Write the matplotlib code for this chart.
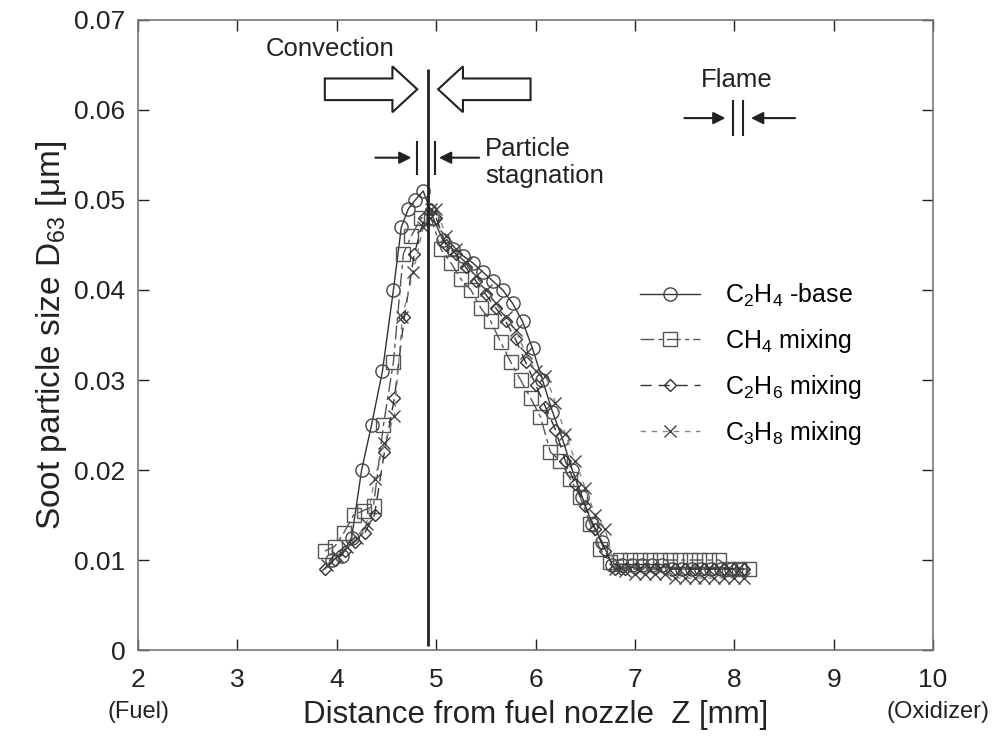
import numpy as np
import matplotlib
matplotlib.use("Agg")
import matplotlib.pyplot as plt
from matplotlib.patches import FancyArrow

plt.rcParams['font.family'] = ['Liberation Sans', 'DejaVu Sans']
plt.rcParams['mathtext.fontset'] = 'custom'
plt.rcParams['mathtext.rm'] = 'Liberation Sans'
plt.rcParams['mathtext.it'] = 'Liberation Sans:italic'

# C2H4 base (circles)
c2h4_x = [3.95, 4.05, 4.15, 4.25, 4.35, 4.46, 4.57, 4.65, 4.72, 4.79, 4.87,
          4.97, 5.07, 5.17, 5.27, 5.37, 5.47, 5.57, 5.67, 5.77, 5.87,
          5.97, 6.07, 6.17, 6.27, 6.37, 6.47, 6.57, 6.67, 6.77, 6.87,
          6.97, 7.07, 7.17, 7.27, 7.37, 7.47, 7.57, 7.67, 7.77, 7.87,
          7.97, 8.07]
c2h4_y = [0.0100, 0.0105, 0.0125, 0.0200, 0.0250, 0.0310, 0.0400, 0.0470, 0.0490, 0.0500, 0.0510,
          0.0480, 0.0455, 0.0445, 0.0438, 0.0430, 0.0420, 0.0410, 0.0400, 0.0385, 0.0365,
          0.0335, 0.0300, 0.0265, 0.0235, 0.0200, 0.0170, 0.0140, 0.0120, 0.0095, 0.0095,
          0.0095, 0.0095, 0.0095, 0.0095, 0.0090, 0.0090, 0.0090, 0.0090, 0.0090, 0.0090,
          0.0090, 0.0090]

# CH4 mixing (squares)
ch4_x = [3.88, 3.98, 4.07, 4.17, 4.27, 4.37, 4.47, 4.57, 4.67, 4.75, 4.85, 4.95,
         5.05, 5.15, 5.25, 5.35, 5.45, 5.55, 5.65, 5.75, 5.85, 5.95,
         6.05, 6.15, 6.25, 6.35, 6.45, 6.55, 6.65, 6.75, 6.85, 6.95,
         7.05, 7.15, 7.25, 7.35, 7.45, 7.55, 7.65, 7.75, 7.85,
         7.95, 8.05, 8.15]
ch4_y = [0.0110, 0.0115, 0.0130, 0.0150, 0.0155, 0.0160, 0.0250, 0.0320, 0.0440, 0.0460, 0.0480, 0.0480,
         0.0445, 0.0430, 0.0412, 0.0400, 0.0380, 0.0365, 0.0342, 0.0320, 0.0300, 0.0280,
         0.0259, 0.0220, 0.0210, 0.0190, 0.0170, 0.0140, 0.0112, 0.0098, 0.0100, 0.0100,
         0.0100, 0.0100, 0.0100, 0.0100, 0.0100, 0.0100, 0.0100, 0.0100, 0.0100,
         0.0090, 0.0090, 0.0090]

# C2H6 mixing (diamonds)
c2h6_x = [3.88, 3.98, 4.08, 4.18, 4.28, 4.38, 4.48, 4.58, 4.68, 4.78, 4.88, 4.95,
          5.00, 5.10, 5.20, 5.30, 5.40, 5.50, 5.60, 5.70, 5.80, 5.90,
          6.00, 6.10, 6.20, 6.30, 6.40, 6.50, 6.60, 6.70, 6.80, 6.90,
          7.00, 7.10, 7.20, 7.30, 7.40, 7.50, 7.60, 7.70, 7.80, 7.90,
          8.00, 8.10]
c2h6_y = [0.0090, 0.0100, 0.0110, 0.0120, 0.0130, 0.0150, 0.0220, 0.0280, 0.0370, 0.0440, 0.0480, 0.0490,
          0.0480, 0.0450, 0.0440, 0.0425, 0.0410, 0.0395, 0.0380, 0.0365, 0.0345, 0.0320,
          0.0295, 0.0270, 0.0245, 0.0210, 0.0185, 0.0160, 0.0135, 0.0110, 0.0090, 0.0090,
          0.0090, 0.0090, 0.0090, 0.0090, 0.0090, 0.0090, 0.0090, 0.0090, 0.0090, 0.0090,
          0.0090, 0.0090]

# C3H8 mixing (crosses)
c3h8_x = [3.90, 4.00, 4.10, 4.20, 4.30, 4.38, 4.48, 4.58, 4.66, 4.77, 4.87, 4.95,
          5.00, 5.10, 5.20, 5.30, 5.40, 5.50, 5.60, 5.70, 5.80, 5.90,
          6.00, 6.10, 6.20, 6.30, 6.40, 6.50, 6.60, 6.70, 6.80, 6.90,
          7.00, 7.10, 7.20, 7.30, 7.40, 7.50, 7.60, 7.70, 7.80, 7.90,
          8.00, 8.10]
c3h8_y = [0.0095, 0.0105, 0.0115, 0.0125, 0.0140, 0.0190, 0.0230, 0.0260, 0.0370, 0.0420, 0.0470, 0.0490,
          0.0490, 0.0460, 0.0445, 0.0430, 0.0415, 0.0400, 0.0385, 0.0370, 0.0355, 0.0330,
          0.0310, 0.0305, 0.0275, 0.0240, 0.0210, 0.0180, 0.0150, 0.0135, 0.0090, 0.0088,
          0.0085, 0.0085, 0.0085, 0.0085, 0.0080, 0.0080, 0.0080, 0.0080, 0.0080, 0.0080,
          0.0080, 0.0080]

x_ticks = [2, 3, 4, 5, 6, 7, 8, 9, 10]
y_ticks = [0, 0.01, 0.02, 0.03, 0.04, 0.05, 0.06, 0.07]
y_ticklabels = ['0', '0.01', '0.02', '0.03', '0.04', '0.05', '0.06', '0.07']
stagnation_z = 4.92

txt = '#222222'

fig = plt.figure(figsize=(9.95, 7.4), dpi=100)
ax = fig.add_axes([0.1387, 0.1216, 0.7990, 0.8514])

ax.plot(c2h4_x, c2h4_y, color='#333333', lw=1.0, marker='o', ms=9.5, mfc='none',
        mec='#444444', mew=1.0, label=r'C$_2$H$_4$ -base')
ax.plot(ch4_x, ch4_y, color='#555555', lw=1.0, ls=(0, (10, 3, 3, 3)), marker='s', ms=9.5,
        mfc='none', mec='#555555', mew=1.0, label=r'CH$_4$ mixing')
ax.plot(c2h6_x, c2h6_y, color='#333333', lw=1.0, ls=(0, (8, 5)), marker='D', ms=6.5,
        mfc='none', mec='#333333', mew=1.0, label=r'C$_2$H$_6$ mixing')
ax.plot(c3h8_x, c3h8_y, color='#888888', lw=1.0, ls=(0, (4, 4)), marker='x', ms=8.5,
        mec='#444444', mew=1.0, label=r'C$_3$H$_8$ mixing')

# stagnation line
ax.vlines(stagnation_z, 0.0005, 0.0645, color=txt, lw=2)

ax.set_xlim(2, 10)
ax.set_ylim(0, 0.07)
ax.set_xticks(x_ticks)
ax.set_yticks(y_ticks)
ax.set_yticklabels(y_ticklabels)
ax.tick_params(direction='in', length=8, width=1, colors=txt, labelsize=19,
               top=True, right=True)
ax.tick_params(axis='x', pad=13)
ax.tick_params(axis='y', pad=9)
for s in ax.spines.values():
    s.set_color('#777777')
    s.set_linewidth(1.2)

ax.set_xlabel('Distance from fuel nozzle  Z [mm]', fontsize=22.5, labelpad=6, color=txt)
ax.set_ylabel(r'Soot particle size D$_{63}$ [μm]', fontsize=24, labelpad=4, color=txt)
ax.text(2, -0.0069, '(Fuel)', ha='center', va='center', fontsize=17, color=txt)
ax.text(10.05, -0.0069, '(Oxidizer)', ha='center', va='center', fontsize=17, color=txt)

# convection block arrows
ax.add_patch(FancyArrow(3.88, 0.0623, 0.93, 0, width=0.0024, head_width=0.0051,
                        head_length=0.25, length_includes_head=True, fill=False,
                        ec=txt, lw=1.5))
ax.add_patch(FancyArrow(5.95, 0.0623, -0.93, 0, width=0.0024, head_width=0.0051,
                        head_length=0.25, length_includes_head=True, fill=False,
                        ec=txt, lw=1.5))
ax.text(3.93, 0.0668, 'Convection', ha='center', va='center', fontsize=18.5, color=txt)

# particle stagnation arrows
ax.annotate('', xy=(4.78, 0.0547), xytext=(4.36, 0.0547),
            arrowprops=dict(arrowstyle='-|>', color=txt, lw=1.5, mutation_scale=18))
ax.annotate('', xy=(5.0, 0.0547), xytext=(5.46, 0.0547),
            arrowprops=dict(arrowstyle='-|>', color=txt, lw=1.5, mutation_scale=18))
ax.vlines([4.81, 4.99], 0.0528, 0.0565, color=txt, lw=1.5)
ax.text(5.49, 0.0542, 'Particle\nstagnation', ha='left', va='center', fontsize=18.5,
        color=txt, linespacing=1.15)

# flame arrows
ax.annotate('', xy=(7.94, 0.0591), xytext=(7.47, 0.0591),
            arrowprops=dict(arrowstyle='-|>', color=txt, lw=1.5, mutation_scale=18))
ax.annotate('', xy=(8.14, 0.0591), xytext=(8.64, 0.0591),
            arrowprops=dict(arrowstyle='-|>', color=txt, lw=1.5, mutation_scale=18))
ax.vlines([7.99, 8.09], 0.0571, 0.0611, color=txt, lw=1.5)
ax.text(8.03, 0.0633, 'Flame', ha='center', va='center', fontsize=18.5, color=txt)

ax.legend(loc='upper left', bbox_to_anchor=(0.631, 0.585), frameon=False, fontsize=18,
          handlelength=2.4, handletextpad=1.0, labelspacing=0.72, borderpad=0,
          borderaxespad=0)

fig.savefig('out.png', dpi=100)
